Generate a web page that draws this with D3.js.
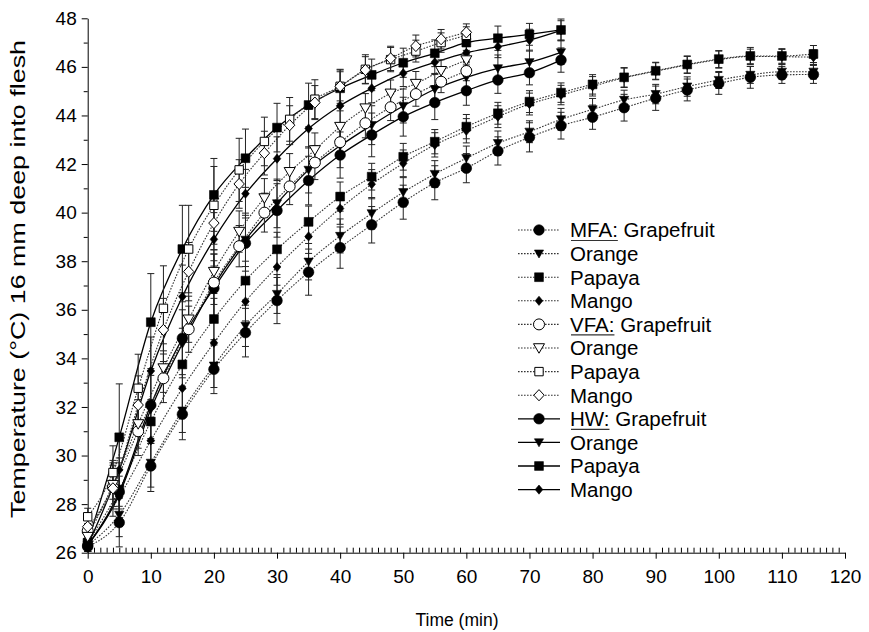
<!DOCTYPE html>
<html>
<head>
<meta charset="utf-8">
<script src="https://cdn.jsdelivr.net/npm/d3@7/dist/d3.min.js"></script>
<style>
html,body{margin:0;padding:0;background:#fff;}
svg{display:block;font-family:"Liberation Sans",Arial,Helvetica,sans-serif;}
</style>
</head>
<body>
<svg id="chart" width="869" height="632"></svg>
<script>
// ---------------- DATA ----------------
const timeMFA = [0,5,10,15,20,25,30,35,40,45,50,55,60,65,70,75,80,85,90,95,100,105,110,115];
const timeVFA = [0,4,8,12,16,20,24,28,32,36,40,44,48,52,56,60];
const timeHW  = [0,5,10,15,20,25,30,35,40,45,50,55,60,65,70,75];

const mfaGrapefruit = [26.25,27.24,29.57,31.70,33.55,35.06,36.38,37.55,38.56,39.50,40.43,41.23,41.83,42.54,43.10,43.58,43.93,44.32,44.71,45.05,45.32,45.57,45.67,45.69];
const mfaOrange     = [26.30,27.56,29.70,31.85,33.70,35.34,36.65,37.98,39.04,39.97,40.84,41.59,42.24,42.86,43.33,43.84,44.25,44.64,44.88,45.19,45.46,45.67,45.80,45.80];
const mfaPapaya     = [26.40,28.60,31.40,33.75,35.62,37.20,38.49,39.62,40.66,41.48,42.30,42.92,43.54,44.09,44.57,44.94,45.28,45.57,45.84,46.10,46.32,46.45,46.45,46.53];
const mfaMango      = [26.30,28.30,30.62,32.77,34.64,36.34,37.76,39.02,40.17,41.17,42.03,42.79,43.37,43.95,44.47,44.84,45.20,45.55,45.82,46.08,46.30,46.43,46.42,46.40];

const mfaGrapefruitErr = [0.25,1.00,1.05,1.05,1.00,1.00,0.95,0.95,0.85,0.75,0.70,0.70,0.60,0.58,0.60,0.55,0.50,0.55,0.50,0.45,0.45,0.45,0.35,0.37];
const mfaOrangeErr     = [0.25,0.90,1.00,0.90,0.90,0.85,0.80,0.75,0.70,0.65,0.60,0.55,0.50,0.50,0.45,0.45,0.45,0.40,0.40,0.40,0.35,0.35,0.30,0.30];
const mfaPapayaErr     = [0.25,0.80,0.90,0.90,0.85,0.80,0.70,0.65,0.60,0.55,0.55,0.50,0.50,0.45,0.45,0.40,0.40,0.40,0.35,0.35,0.35,0.35,0.30,0.35];
const mfaMangoErr      = [0.25,0.85,0.95,0.90,0.85,0.80,0.75,0.70,0.65,0.60,0.55,0.50,0.50,0.45,0.45,0.40,0.40,0.40,0.35,0.35,0.35,0.30,0.30,0.30];

const vfaGrapefruit = [26.90,28.70,31.00,33.18,35.20,37.12,38.62,40.00,41.08,42.06,42.90,43.68,44.34,44.88,45.39,45.83];
const vfaOrange     = [26.66,28.80,31.30,33.60,35.61,37.57,39.22,40.60,41.68,42.58,43.54,44.30,44.91,45.31,45.84,46.28];
const vfaPapaya     = [27.48,29.30,32.77,36.06,38.50,40.30,41.76,42.93,43.84,44.67,45.20,45.90,46.30,46.65,47.00,47.30];
const vfaMango      = [27.07,28.65,32.08,35.17,37.57,39.57,41.18,42.45,43.60,44.53,45.20,45.87,46.35,46.86,47.14,47.42];

const vfaGrapefruitErr = [0.30,0.90,1.00,1.00,0.95,0.90,0.85,0.80,0.75,0.70,0.65,0.60,0.55,0.50,0.45,0.40];
const vfaOrangeErr     = [0.30,0.90,1.00,1.00,0.95,0.90,0.85,0.80,0.75,0.70,0.65,0.60,0.55,0.50,0.45,0.40];
const vfaPapayaErr     = [0.35,1.10,1.40,1.75,1.80,1.60,1.30,1.00,0.90,0.80,0.70,0.60,0.50,0.45,0.40,0.35];
const vfaMangoErr      = [0.30,1.15,1.20,1.30,1.20,1.10,1.00,0.90,0.80,0.70,0.60,0.55,0.50,0.45,0.40,0.35];

const hwGrapefruit = [26.30,28.50,32.08,34.83,36.89,38.74,40.09,41.32,42.37,43.20,43.95,44.53,45.02,45.46,45.76,46.28];
const hwOrange     = [26.30,28.40,31.90,34.60,37.00,38.88,40.38,41.76,42.75,43.60,44.39,45.08,45.57,45.94,46.19,46.60];
const hwPapaya     = [26.41,30.75,35.49,38.50,40.73,42.24,43.50,44.43,45.12,45.67,46.17,46.56,47.00,47.18,47.34,47.52];
const hwMango      = [26.30,29.41,33.48,36.54,38.90,40.78,42.22,43.46,44.40,45.12,45.74,46.19,46.58,46.83,47.10,47.50];

const hwGrapefruitErr = [0.25,1.40,1.50,1.50,1.40,1.15,1.10,1.00,0.95,0.90,0.80,0.70,0.60,0.55,0.50,0.50];
const hwOrangeErr     = [0.25,1.30,1.40,1.40,1.30,1.10,1.00,0.95,0.90,0.80,0.70,0.65,0.60,0.55,0.50,0.50];
const hwPapayaErr     = [0.25,2.20,2.00,1.80,1.50,1.20,1.00,0.90,0.75,0.65,0.60,0.55,0.50,0.50,0.45,0.45];
const hwMangoErr      = [0.25,1.50,1.40,1.30,1.10,1.00,0.90,0.80,0.70,0.60,0.55,0.50,0.50,0.45,0.45,0.40];

const xTicks = [0,10,20,30,40,50,60,70,80,90,100,110,120];
const yTicks = [26,28,30,32,34,36,38,40,42,44,46,48];

const legendLabels = ["Grapefruit","Orange","Papaya","Mango"];
const methodLabels = ["MFA:","VFA:","HW:"];

// ---------------- SERIES TABLE ----------------
const series = [
  {m:"MFA", f:0, t:timeMFA, v:mfaGrapefruit, e:mfaGrapefruitErr},
  {m:"MFA", f:1, t:timeMFA, v:mfaOrange,     e:mfaOrangeErr},
  {m:"MFA", f:2, t:timeMFA, v:mfaPapaya,     e:mfaPapayaErr},
  {m:"MFA", f:3, t:timeMFA, v:mfaMango,      e:mfaMangoErr},
  {m:"HW",  f:0, t:timeHW,  v:hwGrapefruit,  e:hwGrapefruitErr},
  {m:"HW",  f:1, t:timeHW,  v:hwOrange,      e:hwOrangeErr},
  {m:"HW",  f:2, t:timeHW,  v:hwPapaya,      e:hwPapayaErr},
  {m:"HW",  f:3, t:timeHW,  v:hwMango,       e:hwMangoErr},
  {m:"VFA", f:0, t:timeVFA, v:vfaGrapefruit, e:vfaGrapefruitErr},
  {m:"VFA", f:1, t:timeVFA, v:vfaOrange,     e:vfaOrangeErr},
  {m:"VFA", f:2, t:timeVFA, v:vfaPapaya,     e:vfaPapayaErr},
  {m:"VFA", f:3, t:timeVFA, v:vfaMango,      e:vfaMangoErr}
];

// ---------------- SCALES ----------------
const svg = d3.select("#chart");
const x = d3.scaleLinear().domain([0,120]).range([87.7,845]);
const y = d3.scaleLinear().domain([26,48]).range([552.7,18.3]);

// marker shapes
function markerPath(f, open){
  if(f===0){ const r = open?5.5:5.3; return d3.symbol(d3.symbolCircle, Math.PI*r*r)(); }
  if(f===1){ const w = open?5.5:4.6, h = open?9.5:8; return `M${-w},${-h*0.45}L${w},${-h*0.45}L0,${h*0.55}Z`; }
  if(f===2){ const s = open?4.2:4.4; return `M${-s},${-s}H${s}V${s}H${-s}Z`; }
  const w = open?5.2:3.8, h = open?5.6:4.6; return `M0,${-h}L${w},0L0,${h}L${-w},0Z`;
}

// ---------------- AXES ----------------
const gx = svg.append("g").attr("transform",`translate(0,${y(26)})`);
gx.call(d3.axisBottom(x).tickValues(xTicks).tickSize(6).tickSizeOuter(0).tickPadding(11).tickFormat(d3.format("d")));
const minorX = d3.range(1,120).filter(d=>d%10!==0);
const gxm = svg.append("g").attr("transform",`translate(0,${y(26)})`);
gxm.call(d3.axisBottom(x).tickValues(minorX).tickSize(-5).tickSizeOuter(0).tickFormat(""));
gxm.select(".domain").remove();

const gy = svg.append("g").attr("transform",`translate(${x(0)},0)`);
gy.call(d3.axisLeft(y).tickValues(yTicks).tickSize(6).tickSizeOuter(0).tickPadding(5).tickFormat(d3.format("d")));
const minorY = d3.range(27,48,2);
const gym = svg.append("g").attr("transform",`translate(${x(0)},0)`);
gym.call(d3.axisLeft(y).tickValues(minorY).tickSize(4).tickSizeOuter(0).tickFormat(""));
gym.select(".domain").remove();

svg.selectAll(".tick text").attr("font-size",19).attr("fill","#000").attr("font-family","Liberation Sans, Arial, sans-serif");
svg.selectAll(".domain,.tick line").attr("stroke","#000").attr("stroke-width",1);

svg.append("text").attr("x",457).attr("y",626).attr("text-anchor","middle")
  .attr("font-size",17.5).text("Time (min)");
svg.append("text").attr("transform","translate(25,279) rotate(-90)").attr("text-anchor","middle")
  .attr("font-size",20).attr("textLength",478).attr("lengthAdjust","spacingAndGlyphs")
  .text("Temperature (°C) 16 mm deep into flesh");

// ---------------- LINES ----------------
const plot = svg.append("g");
const line = d3.line().curve(d3.curveMonotoneX);
series.forEach(s=>{
  const pts = s.t.map((t,i)=>[x(t), y(s.v[i])]);
  plot.append("path").attr("d", line(pts)).attr("fill","none")
    .attr("stroke", s.m==="HW" ? "#000" : "#333")
    .attr("stroke-width", s.m==="HW" ? 1.3 : 1.1)
    .attr("stroke-dasharray", s.m==="HW" ? null : "1.6,1.4");
});

// ---------------- ERROR BARS ----------------
const eg = svg.append("g").attr("stroke","#222").attr("stroke-width",1);
series.forEach(s=>{
  s.t.forEach((t,i)=>{
    const cx = x(t), y1 = y(s.v[i]+s.e[i]), y2 = y(s.v[i]-s.e[i]);
    eg.append("line").attr("x1",cx).attr("x2",cx).attr("y1",y1).attr("y2",Math.min(y2,y(26)));
    eg.append("line").attr("x1",cx-3.5).attr("x2",cx+3.5).attr("y1",y1).attr("y2",y1);
    if(y2 < y(26)) eg.append("line").attr("x1",cx-3.5).attr("x2",cx+3.5).attr("y1",y2).attr("y2",y2);
  });
});

// ---------------- MARKERS ----------------
const mg = svg.append("g");
series.forEach(s=>{
  const open = s.m==="VFA";
  s.t.forEach((t,i)=>{
    mg.append("path").attr("d", markerPath(s.f, open))
      .attr("transform",`translate(${x(t)},${y(s.v[i])})`)
      .attr("fill", open ? "#fff" : "#000")
      .attr("stroke","#000").attr("stroke-width", open?1:0.6);
  });
});

// ---------------- LEGEND ----------------
const lg = svg.append("g");
const rowY0 = 230, rowDy = 23.6;
methodLabels.forEach((mlab, mi)=>{
  legendLabels.forEach((flab, fi)=>{
    const idx = mi*4+fi;
    const cy = rowY0 + idx*rowDy;
    const method = mlab.replace(":","");
    const open = method==="VFA";
    lg.append("line").attr("x1",518).attr("x2",560).attr("y1",cy).attr("y2",cy)
      .attr("stroke", method==="HW" ? "#000" : "#333")
      .attr("stroke-width", method==="HW" ? 1.3 : 1.1)
      .attr("stroke-dasharray", method==="HW" ? null : "1.6,1.4");
    lg.append("path").attr("d", markerPath(fi, open)).attr("transform",`translate(539,${cy})`)
      .attr("fill", open?"#fff":"#000").attr("stroke","#000").attr("stroke-width", open?1:0.6);
    const tx = lg.append("text").attr("x",570).attr("y",cy).attr("dy","0.36em").attr("font-size",20.5);
    if(fi===0){
      const m = tx.append("tspan").text(mlab);
      tx.append("tspan").text(" "+flab);
      const w = m.node().getComputedTextLength();
      lg.append("line").attr("x1",571).attr("x2",570+w).attr("y1",cy+10.5).attr("y2",cy+10.5)
        .attr("stroke","#333").attr("stroke-width",1.2);
    } else {
      tx.text(flab);
    }
  });
});
</script>
</body>
</html>
